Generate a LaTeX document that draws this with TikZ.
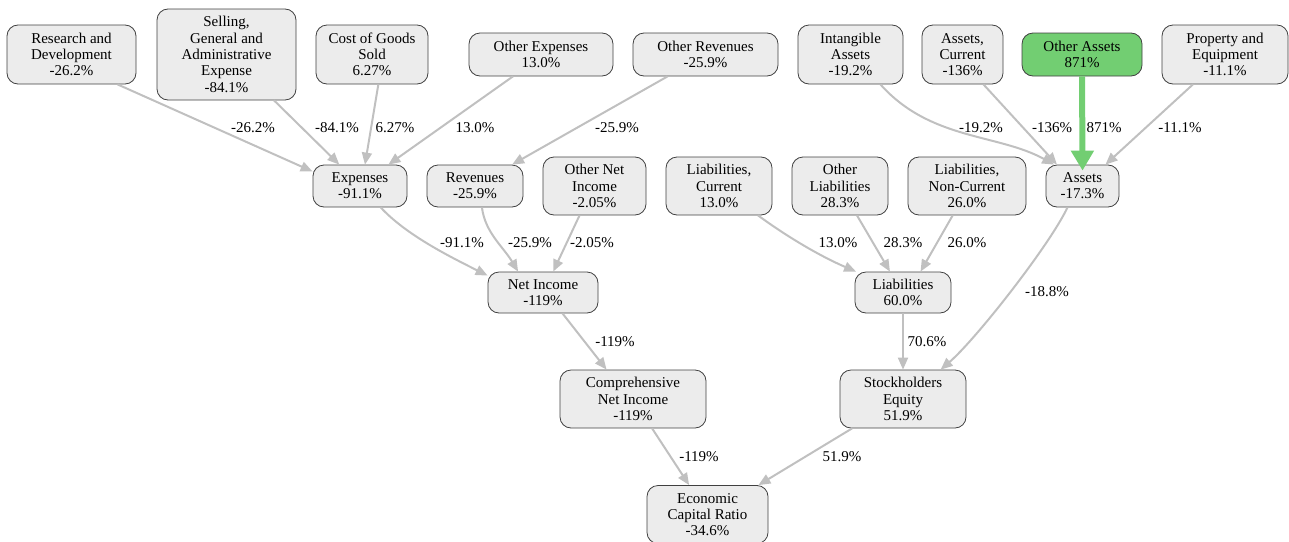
\documentclass[tikz,border=0pt]{standalone}
\usepackage{fontspec}
\setmainfont{Liberation Serif}
\newfontfamily\graphfont{Liberation Serif}
\usetikzlibrary{arrows.meta}
\definecolor{nodeFill}{RGB}{236,236,236}
\definecolor{nodeLine}{RGB}{64,64,64}
\definecolor{edgeGray}{RGB}{192,192,192}
\definecolor{hiGreen}{RGB}{114,206,114}

\begin{document}
\begin{tikzpicture}[x=1pt,y=-1pt,
  box/.style={draw=nodeLine,fill=nodeFill,line width=0.8pt,rounded corners=11pt,align=center,inner sep=0pt,font=\graphfont\fontsize{15}{16.3}\selectfont},
  hot/.style={box,fill=hiGreen},
  lbl/.style={inner sep=0pt,font=\graphfont\fontsize{15}{16.3}\selectfont},
  flow/.style={draw=edgeGray,line width=2pt,-{Triangle[length=12pt,width=10pt]}},
  bigflow/.style={draw=hiGreen,line width=6pt,-{Triangle[length=20pt,width=22pt]},shorten >=-6pt}]
\useasboundingbox (0,0) rectangle (1289,541);

\node[box,minimum width=129,minimum height=59] (rd) at (71.5,54.5) {Research and\\Development\\-26.2\%};
\node[box,minimum width=139,minimum height=91] (sga) at (226.5,54.5) {Selling,\\General and\\Administrative\\Expense\\-84.1\%};
\node[box,minimum width=112,minimum height=59] (cogs) at (372,54.5) {Cost of Goods\\Sold\\6.27\%};
\node[box,minimum width=144,minimum height=43] (oexp) at (541,54.5) {Other Expenses\\13.0\%};
\node[box,minimum width=145,minimum height=43] (orev) at (705.5,54.5) {Other Revenues\\-25.9\%};
\node[box,minimum width=105,minimum height=59] (intang) at (850.5,54.5) {Intangible\\Assets\\-19.2\%};
\node[box,minimum width=81,minimum height=59] (acur) at (962.5,54.5) {Assets,\\Current\\-136\%};
\node[hot,minimum width=120,minimum height=43] (oasset) at (1082,54.5) {Other Assets\\871\%};
\node[box,minimum width=126,minimum height=59] (ppe) at (1225,54.5) {Property and\\Equipment\\-11.1\%};

\node[box,minimum width=94,minimum height=42] (exp) at (360,186) {Expenses\\-91.1\%};
\node[box,minimum width=96,minimum height=42] (rev) at (475,186) {Revenues\\-25.9\%};
\node[box,minimum width=103,minimum height=58] (oni) at (594.5,186) {Other Net\\Income\\-2.05\%};
\node[box,minimum width=106,minimum height=58] (lcur) at (719,186) {Liabilities,\\Current\\13.0\%};
\node[box,minimum width=96,minimum height=58] (oliab) at (840,186) {Other\\Liabilities\\28.3\%};
\node[box,minimum width=118,minimum height=58] (lnc) at (967,186) {Liabilities,\\Non-Current\\26.0\%};
\node[box,minimum width=73,minimum height=42] (assets) at (1082.5,186) {Assets\\-17.3\%};

\node[box,minimum width=110,minimum height=41] (ni) at (543,292.5) {Net Income\\-119\%};
\node[box,minimum width=96,minimum height=41] (liab) at (903,292.5) {Liabilities\\60.0\%};
\node[box,minimum width=146,minimum height=58] (cni) at (633,399) {Comprehensive\\Net Income\\-119\%};
\node[box,minimum width=126,minimum height=58] (se) at (903,399) {Stockholders\\Equity\\51.9\%};
\node[box,minimum width=121,minimum height=58] (ecr) at (707.5,514.5) {Economic\\Capital Ratio\\-34.6\%};

\foreach \a/\aa/\b/\bb in {rd/-33/exp/163,sga/-44/exp/134,cogs/-78/exp/77,oexp/-142/exp/37,
    orev/-150/rev/30,acur/-55/assets/140,ppe/-137/assets/43,oni/-117/ni/64,oliab/-60/liab/122,
    lnc/-116/liab/50,liab/-90/se/90,ni/-47/cni/132,cni/-57/ecr/122,se/-150/ecr/30}
  \draw[flow] (\a.\aa) -- (\b.\bb);
\draw[flow] (intang.-45) .. controls +(50,56) and +(-56,-31) .. (assets.143);
\draw[flow] (exp.-46) .. controls +(25,27) and +(-40,-20) .. (ni.163);
\draw[flow] (rev.-72) .. controls +(3,25) and +(-15,-25) .. (ni.140);
\draw[flow] (lcur.-37) .. controls +(30,22) and +(-35,-15) .. (liab.156);
\draw[flow] (assets.-125) .. controls +(-18,38) and +(35,-30) .. (se.38);
\draw[bigflow] (oasset.south) -- (assets.north);

\foreach \n/\x/\y/\val in {lrd/253/128/-26.2,lsga/337/128/-84.1,lcogs/395/128/6.27,loexp/475/128/13.0,
    lorev/617/128/-25.9,lintang/981/128/-19.2,lacur/1052/128/-136,loasset/1104/128/871,lppe/1180/128/-11.1,
    lexp/462/243/-91.1,lrev/530/243/-25.9,loni/592/243/-2.05,llcur/838/243/13.0,loliab/903/243/28.3,
    llnc/967/243/26.0,lassets/1047/292/-18.8,lni/615/342/-119,lliab/927/342/70.6,lcni/699/457/-119,lse/842/457/51.9}
  \node[lbl] (\n) at (\x,\y) {\val\%};
\end{tikzpicture}
\end{document}
